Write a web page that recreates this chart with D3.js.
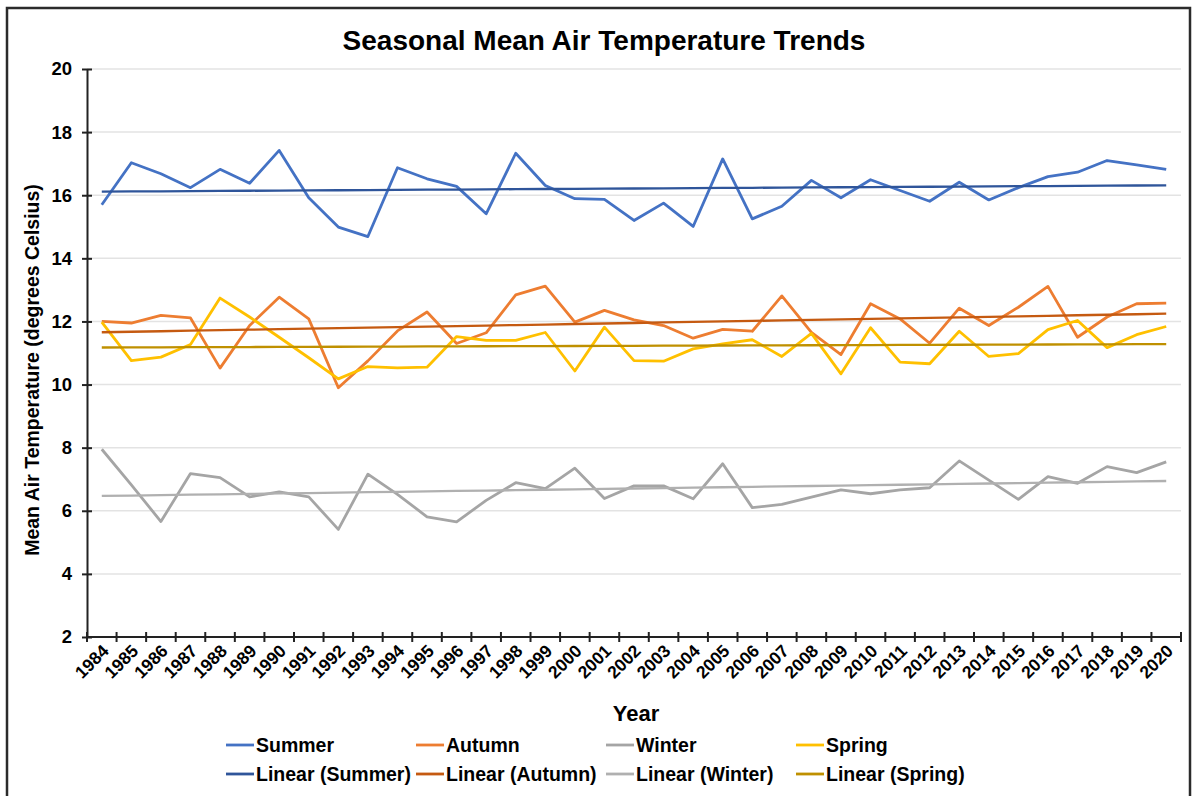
<!DOCTYPE html>
<html>
<head>
<meta charset="utf-8">
<script src="https://cdn.jsdelivr.net/npm/d3@7"></script>
<style>
  body { margin: 0; background: #fff; }
  text { font-family: "Liberation Sans", Arial, sans-serif; font-weight: bold; fill: #000; }
</style>
</head>
<body>
<div id="chart"></div>
<script>
const years = d3.range(1984, 2021);

const summer = [15.70, 17.03, 16.68, 16.24, 16.82, 16.38, 17.42, 15.92, 14.99, 14.69, 16.87, 16.52, 16.28,
  15.41, 17.33, 16.31, 15.89, 15.87, 15.20, 15.75, 15.01, 17.15, 15.25, 15.65, 16.47,
  15.92, 16.49, 16.15, 15.81, 16.41, 15.85, 16.24, 16.59, 16.73, 17.10, 16.96, 16.82];

const autumn = [12.00, 11.95, 12.19, 12.11, 10.52, 11.87, 12.77, 12.08, 9.90, 10.75, 11.70, 12.30, 11.30,
  11.64, 12.84, 13.12, 11.98, 12.35, 12.05, 11.87, 11.47, 11.75, 11.69, 12.81, 11.65,
  10.95, 12.56, 12.08, 11.31, 12.42, 11.87, 12.45, 13.11, 11.50, 12.14, 12.56, 12.58];

const winter = [7.95, 6.82, 5.66, 7.18, 7.05, 6.44, 6.60, 6.44, 5.41, 7.16, 6.52, 5.81, 5.65,
  6.33, 6.89, 6.70, 7.35, 6.39, 6.79, 6.79, 6.38, 7.49, 6.10, 6.20, 6.43,
  6.66, 6.54, 6.66, 6.73, 7.58, 6.97, 6.36, 7.08, 6.87, 7.40, 7.21, 7.55];

const spring = [11.98, 10.76, 10.87, 11.27, 12.74, 12.14, 11.50, 10.85, 10.18, 10.57, 10.53, 10.55, 11.52,
  11.40, 11.40, 11.65, 10.43, 11.82, 10.76, 10.74, 11.13, 11.29, 11.42, 10.89, 11.62,
  10.34, 11.80, 10.71, 10.66, 11.69, 10.89, 10.98, 11.74, 12.03, 11.17, 11.58, 11.84];

const seriesNames = ["Summer", "Autumn", "Winter", "Spring"];
const seriesColors = ["#4472C4", "#ED7D31", "#A5A5A5", "#FFC000"];
const trendColors = ["#2F559A", "#C55A11", "#B0B0B0", "#BF9000"];
const yTicks = [2, 4, 6, 8, 10, 12, 14, 16, 18, 20];

const width = 1198, height = 796;
const plot = {left: 87, right: 1181, top: 69, bottom: 637};

const svg = d3.select("#chart").append("svg")
  .attr("width", width)
  .attr("height", height);

// outer frame
svg.append("rect")
  .attr("x", 7).attr("y", 8)
  .attr("width", 1183).attr("height", 800)
  .attr("fill", "none")
  .attr("stroke", "#2b2b2b")
  .attr("stroke-width", 2.5);

const x = d3.scaleBand()
  .domain(years)
  .range([plot.left, plot.right]);

const y = d3.scaleLinear()
  .domain([2, 20])
  .range([plot.bottom, plot.top]);

const cx = d => x(d) + x.bandwidth() / 2;

// gridlines
svg.append("g")
  .selectAll("line")
  .data(yTicks.filter(t => t > 2))
  .join("line")
  .attr("x1", plot.left).attr("x2", plot.right)
  .attr("y1", d => y(d)).attr("y2", d => y(d))
  .attr("stroke", "#e3e3e3")
  .attr("stroke-width", 1.5);

// y axis
const yAxis = svg.append("g")
  .attr("transform", `translate(${plot.left},0)`)
  .call(d3.axisLeft(y).tickValues(yTicks).tickSize(0).tickPadding(15));
yAxis.select(".domain").attr("stroke", "#222").attr("stroke-width", 2);
yAxis.selectAll("text").style("font-size", "18.5px");
yAxis.selectAll(".tick").append("line")
  .attr("x1", -5).attr("x2", 5)
  .attr("stroke", "#222").attr("stroke-width", 2);

// x axis
const xAxis = svg.append("g")
  .attr("transform", `translate(0,${plot.bottom})`);
xAxis.append("line")
  .attr("x1", plot.left).attr("x2", plot.right)
  .attr("stroke", "#222").attr("stroke-width", 2);
xAxis.selectAll(".xtick")
  .data(years.concat([null]))
  .join("line")
  .attr("x1", (d, i) => plot.left + i * x.step())
  .attr("x2", (d, i) => plot.left + i * x.step())
  .attr("y1", -5).attr("y2", 5)
  .attr("stroke", "#222").attr("stroke-width", 2);
xAxis.selectAll(".xlab")
  .data(years)
  .join("text")
  .attr("text-anchor", "end")
  .attr("transform", d => `translate(${cx(d) + 8},${15}) rotate(-45)`)
  .style("font-size", "17.5px")
  .text(d => d);

// linear trend by least squares
function trend(vals) {
  const n = vals.length;
  const xs = d3.range(n);
  const mx = d3.mean(xs), my = d3.mean(vals);
  const b = d3.sum(xs, i => (i - mx) * (vals[i] - my)) / d3.sum(xs, i => (i - mx) ** 2);
  const a = my - b * mx;
  return xs.map(i => a + b * i);
}

const allSeries = [summer, autumn, winter, spring];
const line = d3.line()
  .x((d, i) => cx(years[i]))
  .y(d => y(d));

const lines = svg.append("g").attr("fill", "none").attr("stroke-linejoin", "round");

allSeries.forEach((vals, k) => {
  lines.append("path")
    .attr("d", line(vals))
    .attr("stroke", seriesColors[k])
    .attr("stroke-width", 2.8);
});
allSeries.forEach((vals, k) => {
  lines.append("path")
    .attr("d", line(trend(vals)))
    .attr("stroke", trendColors[k])
    .attr("stroke-width", 2.3);
});

// titles
svg.append("text")
  .attr("x", 604).attr("y", 50)
  .attr("text-anchor", "middle")
  .style("font-size", "28px")
  .text("Seasonal Mean Air Temperature Trends");

svg.append("text")
  .attr("transform", "translate(39,370) rotate(-90)")
  .attr("text-anchor", "middle")
  .style("font-size", "19.5px")
  .text("Mean Air Temperature (degrees Celsius)");

svg.append("text")
  .attr("x", 636).attr("y", 721)
  .attr("text-anchor", "middle")
  .style("font-size", "22px")
  .text("Year");

// legend
const legend = svg.append("g");
const legendItems = [];
seriesNames.forEach((s, k) => legendItems.push({label: s, color: seriesColors[k], row: 0, col: k}));
seriesNames.forEach((s, k) => legendItems.push({label: `Linear (${s})`, color: trendColors[k], row: 1, col: k}));

const item = legend.selectAll("g")
  .data(legendItems)
  .join("g")
  .attr("transform", d => `translate(${226 + d.col * 190},${745 + d.row * 29})`);
item.append("line")
  .attr("x1", 0).attr("x2", 28)
  .attr("stroke", d => d.color)
  .attr("stroke-width", 2.8);
item.append("text")
  .attr("x", 30).attr("dy", "0.35em")
  .style("font-size", "19.5px")
  .text(d => d.label);
</script>
</body>
</html>
